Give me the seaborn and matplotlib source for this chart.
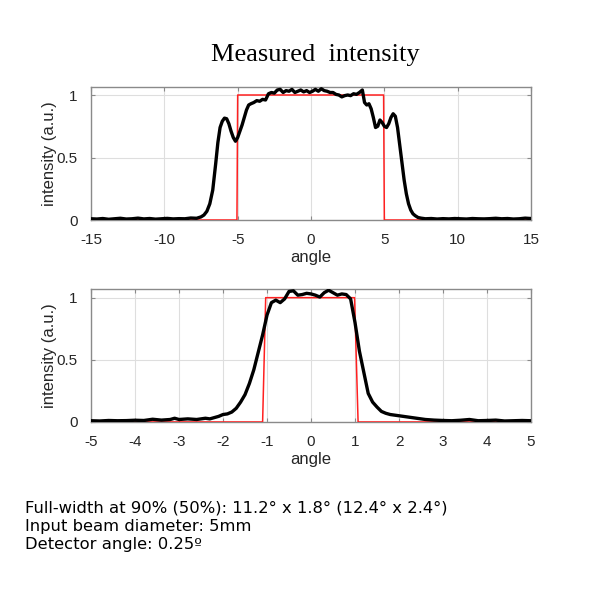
import matplotlib
matplotlib.use("Agg")
import matplotlib.pyplot as plt
import seaborn as sns
import pandas as pd

# ---- data ----
top_angle = [-15.0, -14.6, -14.2, -13.8, -13.4, -13.0, -12.6, -12.2, -11.8, -11.4, -11.0, -10.6,
             -10.2, -9.8, -9.4, -9.0, -8.6, -8.2, -7.8, -7.5, -7.3, -7.1, -6.9, -6.7, -6.5, -6.35,
             -6.2, -6.05, -5.9, -5.75, -5.6, -5.45, -5.3, -5.15, -5.0, -4.85, -4.7, -4.55, -4.4,
             -4.25, -4.1, -3.9, -3.7, -3.5, -3.3, -3.1, -2.9, -2.7, -2.5, -2.3, -2.1, -1.9, -1.7,
             -1.5, -1.3, -1.1, -0.9, -0.7, -0.5, -0.3, -0.1, 0.1, 0.3, 0.5, 0.7, 0.9, 1.1, 1.3,
             1.5, 1.7, 1.9, 2.1, 2.3, 2.5, 2.7, 2.9, 3.1, 3.3, 3.5, 3.65, 3.8, 3.95, 4.1, 4.25,
             4.4, 4.55, 4.7, 4.85, 5.0, 5.15, 5.3, 5.45, 5.6, 5.75, 5.9, 6.05, 6.2, 6.35, 6.5,
             6.65, 6.8, 6.95, 7.1, 7.3, 7.5, 7.8, 8.2, 8.6, 9.0, 9.4, 9.8, 10.2, 10.6, 11.0, 11.4,
             11.8, 12.2, 12.6, 13.0, 13.4, 13.8, 14.2, 14.6, 15.0]
top_intensity = [0.01, 0.008, 0.012, 0.006, 0.01, 0.014, 0.008, 0.01, 0.015, 0.009, 0.012, 0.007,
                 0.01, 0.013, 0.009, 0.011, 0.01, 0.016, 0.014, 0.025, 0.04, 0.07, 0.13, 0.24, 0.45,
                 0.62, 0.74, 0.79, 0.815, 0.81, 0.77, 0.71, 0.66, 0.63, 0.66, 0.71, 0.76, 0.82, 0.88,
                 0.92, 0.93, 0.94, 0.955, 0.95, 0.965, 0.96, 1.01, 1.02, 1.015, 1.04, 1.045, 1.02,
                 1.035, 1.03, 1.045, 1.02, 1.03, 1.04, 1.025, 1.035, 1.02, 1.03, 1.045, 1.03, 1.05,
                 1.035, 1.03, 1.02, 1.02, 1.005, 1.0, 0.985, 0.995, 1.0, 0.995, 1.01, 1.005, 1.02,
                 1.04, 0.94, 0.92, 0.93, 0.89, 0.82, 0.74, 0.75, 0.80, 0.78, 0.75, 0.74, 0.77, 0.82,
                 0.85, 0.83, 0.74, 0.6, 0.46, 0.32, 0.21, 0.13, 0.08, 0.05, 0.035, 0.02, 0.015, 0.01,
                 0.012, 0.008, 0.011, 0.009, 0.012, 0.01, 0.008, 0.012, 0.01, 0.009, 0.011, 0.014,
                 0.01, 0.012, 0.008, 0.01, 0.015, 0.012]
top_ideal_angle = [-15.0, -5.05, -5.0, 4.95, 5.0, 15.0]
top_ideal = [0, 0, 1, 1, 0, 0]

bot_angle = [-5.0, -4.8, -4.6, -4.4, -4.2, -4.0, -3.8, -3.6, -3.4, -3.2, -3.1, -3.0, -2.8, -2.6,
             -2.4, -2.3, -2.2, -2.1, -2.0, -1.9, -1.8, -1.7, -1.6, -1.5, -1.4, -1.3, -1.2, -1.1,
             -1.0, -0.9, -0.8, -0.7, -0.6, -0.5, -0.4, -0.3, -0.2, -0.1, 0.0, 0.1, 0.2, 0.3, 0.4,
             0.5, 0.6, 0.7, 0.8, 0.9, 1.0, 1.1, 1.2, 1.3, 1.4, 1.5, 1.6, 1.7, 1.8, 1.9, 2.0, 2.2,
             2.4, 2.6, 2.8, 3.0, 3.2, 3.4, 3.6, 3.8, 4.0, 4.2, 4.4, 4.6, 4.8, 5.0]
bot_intensity = [0.01, 0.008, 0.012, 0.01, 0.011, 0.014, 0.012, 0.022, 0.015, 0.02, 0.03, 0.02,
                 0.025, 0.02, 0.03, 0.025, 0.035, 0.045, 0.06, 0.065, 0.08, 0.11, 0.16, 0.22, 0.31,
                 0.42, 0.56, 0.7, 0.86, 0.96, 0.98, 0.96, 0.99, 1.05, 1.055, 1.02, 1.025, 1.035,
                 1.03, 1.02, 1.005, 1.04, 1.06, 1.04, 1.02, 1.03, 1.025, 0.99, 0.8, 0.57, 0.4, 0.23,
                 0.16, 0.12, 0.085, 0.07, 0.06, 0.055, 0.05, 0.04, 0.03, 0.02, 0.015, 0.012, 0.01,
                 0.014, 0.02, 0.01, 0.012, 0.015, 0.008, 0.01, 0.012, 0.01]
bot_ideal_angle = [-5.0, -1.1, -1.03, 0.99, 1.07, 5.0]
bot_ideal = [0, 0, 1, 1, 0, 0]

top_ticks = [-15, -10, -5, 0, 5, 10, 15]
bot_ticks = [-5, -4, -3, -2, -1, 0, 1, 2, 3, 4, 5]
y_ticks = [0, 0.5, 1]
y_ticklabels = ["0", "0.5", "1"]

title = "Measured  intensity"
notes = ["Full-width at 90% (50%): 11.2\u00b0 x 1.8\u00b0 (12.4\u00b0 x 2.4\u00b0)",
         "Input beam diameter: 5mm",
         "Detector angle: 0.25\u00ba"]

# ---- style ----
sns.set_theme(style="whitegrid")
plt.rcParams["font.family"] = ["Liberation Sans", "DejaVu Sans"]

fig = plt.figure(figsize=(6, 6), dpi=100)
fig.patch.set_facecolor("white")

ax1 = fig.add_axes([0.1517, 0.6333, 0.7333, 0.2217])
ax2 = fig.add_axes([0.1517, 0.2967, 0.7333, 0.2217])

panels = [
    (ax1, top_angle, top_intensity, top_ideal_angle, top_ideal, top_ticks, (-15, 15), 1.064),
    (ax2, bot_angle, bot_intensity, bot_ideal_angle, bot_ideal, bot_ticks, (-5, 5), 1.07),
]

for ax, xa, ya, xi, yi, ticks, xl, ytop in panels:
    ideal = pd.DataFrame({"angle": xi, "intensity": yi})
    meas = pd.DataFrame({"angle": xa, "intensity": ya})
    sns.lineplot(data=ideal, x="angle", y="intensity", ax=ax, color="#ff2020",
                 linewidth=1.1, estimator=None, sort=False, zorder=3)
    sns.lineplot(data=meas, x="angle", y="intensity", ax=ax, color="black",
                 linewidth=2.4, estimator=None, sort=False, zorder=4)
    ax.set_xlim(*xl)
    ax.set_ylim(0, ytop)
    ax.set_xticks(ticks)
    ax.set_xticklabels([str(t) for t in ticks])
    ax.set_yticks(y_ticks)
    ax.set_yticklabels(y_ticklabels)
    ax.set_facecolor("white")
    ax.grid(True, color="#dedede", linewidth=0.8)
    for s in ax.spines.values():
        s.set_visible(True)
        s.set_color("#8a8a8a")
        s.set_linewidth(1.0)
    ax.tick_params(direction="in", length=3, width=0.8, color="#8a8a8a",
                   top=True, right=True, bottom=True, left=True,
                   labelsize=11, labelcolor="#262626")
    ax.tick_params(axis="x", pad=9.5)
    ax.tick_params(axis="y", pad=9.5)
    ax.set_xlabel("angle", fontsize=12, color="#262626", labelpad=2)
    ax.set_ylabel("intensity (a.u.)", fontsize=12, color="#262626", labelpad=0)

fig.text(0.525, 0.908, title, ha="center", va="center", fontsize=19,
         family=["Liberation Serif", "DejaVu Serif"], color="black")

for i, line in enumerate(notes):
    fig.text(0.042, 1 - (508 + 18 * i) / 600, line, ha="left", va="center",
             fontsize=11.8, family=["DejaVu Sans"], color="black")

fig.savefig("out.png", dpi=100, facecolor="white")
